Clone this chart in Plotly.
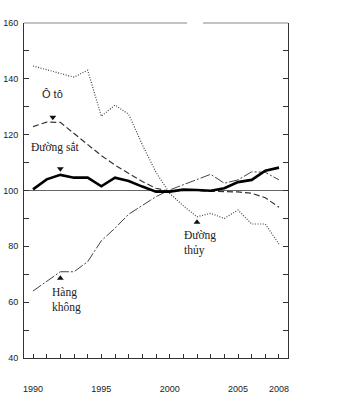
import plotly.graph_objects as go

years = list(range(1990, 2009))
oto = [144.6, 143.3, 142.0, 140.6, 143.1, 126.6, 130.6, 127.3, 116.4, 106.5, 99.0,
       94.5, 90.6, 91.8, 90.0, 93.0, 88.0, 88.0, 80.8]
duong_sat = [122.9, 124.5, 124.4, 120.5, 116.3, 112.5, 109.1, 106.2, 103.2, 100.8, 99.7,
             100.0, 100.0, 99.7, 99.6, 99.5, 99.0, 97.4, 94.0]
duong_bo = [100.4, 104.0, 105.6, 104.6, 104.6, 101.5, 104.6, 103.4, 101.4, 99.6, 99.6,
            100.3, 100.2, 99.9, 100.8, 103.0, 103.8, 107.1, 108.2]
hang_khong = [64.0, 67.5, 70.9, 70.9, 74.5, 82.0, 86.5, 91.5, 94.5, 97.8, 100.2,
              102.0, 104.0, 105.8, 102.6, 103.8, 106.7, 106.5, 103.8]

x_label_years = [1990, 1995, 2000, 2005, 2008]
x_ticktext = [str(y) if y in x_label_years else "" for y in years]
y_tickvals = list(range(40, 161, 10))
y_ticktext = [str(v) if v % 20 == 0 else "" for v in y_tickvals]

# marker arrows: (year, value, symbol)
arrows_x = [1991.45, 1992.0, 1992.0, 2002.0]
arrows_y = [126.2, 107.8, 68.6, 88.6]
arrows_sym = ["triangle-down", "triangle-down", "triangle-up", "triangle-up"]

fig = go.Figure()
fig.add_trace(go.Scatter(x=years, y=oto, mode="lines",
                         line=dict(color="#444", width=1.2, dash="1px,1.6px")))
fig.add_trace(go.Scatter(x=years, y=duong_sat, mode="lines",
                         line=dict(color="#333", width=1.2, dash="6px,3px")))
fig.add_trace(go.Scatter(x=years, y=hang_khong, mode="lines",
                         line=dict(color="#444", width=1, dash="10px,2px,2px,2px")))
fig.add_trace(go.Scatter(x=years, y=duong_bo, mode="lines",
                         line=dict(color="#000", width=2.6)))
fig.add_trace(go.Scatter(x=arrows_x, y=arrows_y, mode="markers",
                         marker=dict(symbol=arrows_sym, size=6, color="#111")))
# dummy trace for right axis
fig.add_trace(go.Scatter(x=[years[0]], y=[100], yaxis="y2", mode="markers",
                         marker=dict(opacity=0), hoverinfo="skip"))

fig.add_shape(type="line", xref="paper", yref="y", x0=0, x1=1, y0=100, y1=100,
              line=dict(color="#666", width=1), layer="below")
# top border with small gap
fig.add_shape(type="line", xref="paper", yref="paper", x0=0, x1=(187 - 24) / 264,
              y0=1, y1=1, line=dict(color="#888", width=1))
fig.add_shape(type="line", xref="paper", yref="paper", x0=(203 - 24) / 264, x1=1,
              y0=1, y1=1, line=dict(color="#888", width=1))

serif = "Liberation Serif"
sans = "Liberation Sans"
ann = [
    dict(x=1990.5, y=134.6, text="Ô tô", font=dict(family=sans, size=11, color="#222")),
    dict(x=1989.7, y=115.4, text="Đường sắt", font=dict(family=serif, size=11.5, color="#222")),
    dict(x=1991.24, y=60.75, text="Hàng<br>không", font=dict(family=serif, size=11.5, color="#222")),
    dict(x=2000.9, y=81.2, text="Đường<br>thủy", font=dict(family=serif, size=11.5, color="#222")),
]
for a in ann:
    fig.add_annotation(xref="x", yref="y", showarrow=False, xanchor="left",
                       yanchor="middle", align="left", **a)

fig.update_layout(
    width=339, height=396,
    margin=dict(l=24, r=51, t=23, b=38, autoexpand=False),
    paper_bgcolor="white", plot_bgcolor="white",
    showlegend=False,
    xaxis=dict(range=[1989.341, 2008.659], tickvals=years, ticktext=x_ticktext,
               ticks="inside", ticklen=4, tickcolor="#333", showline=True,
               linecolor="#333", linewidth=1, showgrid=False, zeroline=False,
               ticklabelstandoff=22, automargin=False,
               tickfont=dict(family=sans, size=9, color="#222")),
    yaxis=dict(range=[40, 160], tickvals=y_tickvals, ticktext=y_ticktext,
               ticks="inside", ticklen=5, tickcolor="#333", showline=True,
               linecolor="#333", linewidth=1, showgrid=False, zeroline=False,
               ticklabelstandoff=3, automargin=False,
               tickfont=dict(family=sans, size=9, color="#222")),
    yaxis2=dict(range=[40, 160], overlaying="y", side="right", tickvals=y_tickvals,
                ticks="inside", ticklen=5, tickcolor="#333", showline=True,
                linecolor="#333", linewidth=1, showgrid=False, zeroline=False,
                showticklabels=False, automargin=False),
)

fig.write_html("out.html")
